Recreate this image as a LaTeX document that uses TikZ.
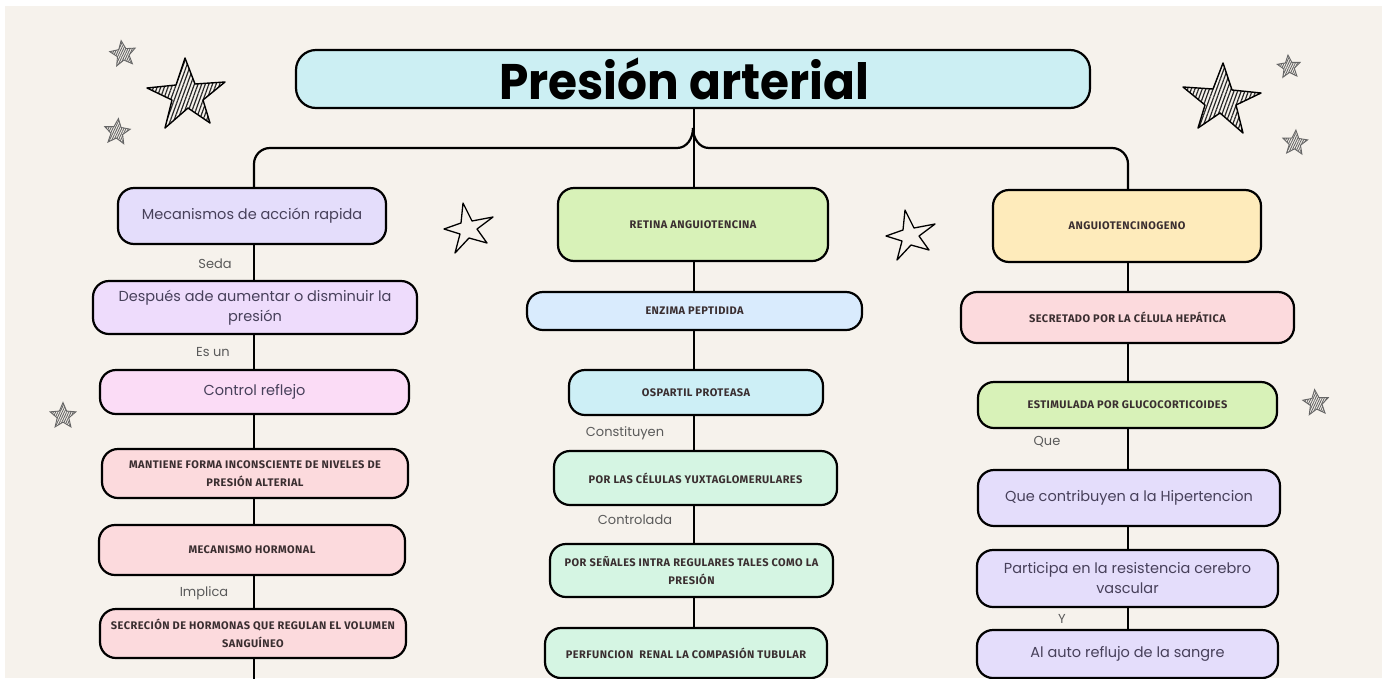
\documentclass[tikz,border=0pt]{standalone}
\usepackage{fontspec}
\setmainfont{Poppins}
\newfontfamily\capsfont[LetterSpace=4]{Fira Sans}
\newfontfamily\titlefont{Poppins}
\usetikzlibrary{shapes.geometric,patterns.meta}
\definecolor{bgc}{HTML}{F6F2EC}
\definecolor{txt}{HTML}{47405A}
\definecolor{capc}{HTML}{3A2E30}
\definecolor{lblc}{HTML}{5A5A5A}
\definecolor{cTitle}{HTML}{CCEFF3}
\definecolor{cLav}{HTML}{E4DDFB}
\definecolor{cPurp}{HTML}{EEDCFC}
\definecolor{cPink}{HTML}{FBDCF6}
\definecolor{cRose}{HTML}{FCDADD}
\definecolor{cGreen}{HTML}{D8F2B8}
\definecolor{cBlue}{HTML}{D9EBFD}
\definecolor{cCyan}{HTML}{CDEFF6}
\definecolor{cMint}{HTML}{D5F5E3}
\definecolor{cYel}{HTML}{FEEBBB}
\tikzset{
  box/.style={draw=black, line width=2.2pt, rounded corners=16pt, inner sep=3pt,
    align=center, text=txt, font=\fontsize{14.5}{20}\selectfont},
  capsbox/.style={box, text=capc, font=\capsfont\bfseries\fontsize{11}{18}\selectfont},
  conn/.style={draw=black, line width=2.2pt},
  lbl/.style={text=lblc, inner sep=0pt, font=\fontsize{13}{15}\selectfont},
  sstar/.style={star, star points=5, star point ratio=2.2, inner sep=0pt,
    draw=black!60, line width=0.9pt,
    pattern={Lines[angle=65,distance=2pt,line width=0.9pt]}, pattern color=black!60},
  bigstar/.pic={
    \draw[line width=1.4pt, line join=round,
      pattern={Lines[angle=70,distance=3.4pt,line width=1.2pt]}, pattern color=black!85]
      (-1,-35) -- (9,-9) -- (39,-11) -- (17,7) -- (24,30) -- (2,15) -- (-21,35)
      -- (-14,7) -- (-39,-5) -- (-10,-8) -- cycle;
  },
  openstar/.pic={
    \draw[line width=1.3pt, line join=round, fill=bgc]
      (-5,-26) -- (4,-8) -- (25,-12) -- (9,0) -- (19,14) -- (1,9) -- (-13,24)
      -- (-8,5) -- (-24,0) -- (-7,-6) -- cycle;
  }
}
\begin{document}
\begin{tikzpicture}[x=1pt,y=-1pt]
\useasboundingbox (0,0) rectangle (1388,678);
\fill[white] (0,0) rectangle (1388,678);
\fill[bgc] (5,6) rectangle (1382,678);

% decorative stars
\pic at (186,93) {bigstar};
\pic[xscale=-1] at (1222,98) {bigstar};
\pic at (468,229) {openstar};
\pic at (910,236) {openstar};
\node[sstar, minimum size=27pt, rotate=8] (s1) at (123,54) {};
\node[sstar, minimum size=27pt, rotate=-6] (s2) at (117,132) {};
\node[sstar, minimum size=24pt, rotate=5] (s3) at (1289,67) {};
\node[sstar, minimum size=26pt, rotate=-4] (s4) at (1295,143) {};
\node[sstar, minimum size=27pt] (s5) at (63,416) {};
\node[sstar, minimum size=27pt, rotate=6] (s6) at (1316,403) {};

% column axes
\coordinate (lx) at (254,0);
\coordinate (mx) at (694,0);
\coordinate (rx) at (1128,0);

% title
\node[box, fill=cTitle, minimum width=794pt, minimum height=58pt, rounded corners=20pt,
  text=black, font=\titlefont\bfseries\fontsize{50}{50}\selectfont] (title) at (693,79)
  {\scalebox{0.94}[1]{Presión arterial}\hspace*{18pt}};

% left column
\node[box, fill=cLav, minimum width=268pt, minimum height=56pt] (mec) at (252,216) {Mecanismos de acción rapida};
\node[box, fill=cPurp, minimum width=324pt, minimum height=53pt] (desp) at (255,307.5) {Después ade aumentar o disminuir la\\presión};
\node[box, fill=cPink, minimum width=309pt, minimum height=44pt] (ctrl) at (254.5,392) {Control reflejo};
\node[capsbox, fill=cRose, minimum width=306pt, minimum height=49pt] (mant) at (255,473.5) {MANTIENE FORMA INCONSCIENTE DE NIVELES DE\\PRESIÓN ALTERIAL};
\node[capsbox, fill=cRose, minimum width=306pt, minimum height=50pt] (mech) at (252,550) {MECANISMO HORMONAL};
\node[capsbox, fill=cRose, minimum width=306pt, minimum height=49pt] (secr) at (253,633.5) {SECRECIÓN DE HORMONAS QUE REGULAN EL VOLUMEN\\SANGUÍNEO};
\coordinate (lend) at (254,680);

% middle column
\node[capsbox, fill=cGreen, minimum width=270pt, minimum height=73pt] (ret) at (693,224.5) {RETINA ANGUIOTENCINA};
\node[capsbox, fill=cBlue, minimum width=335pt, minimum height=38pt] (enz) at (694.5,311) {ENZIMA PEPTIDIDA};
\node[capsbox, fill=cCyan, minimum width=254pt, minimum height=45pt] (osp) at (696,392.5) {OSPARTIL PROTEASA};
\node[capsbox, fill=cMint, minimum width=283pt, minimum height=54pt] (cel) at (695.5,478) {POR LAS CÉLULAS YUXTAGLOMERULARES};
\node[capsbox, fill=cMint, minimum width=283pt, minimum height=53pt] (sen) at (691.5,570.5) {POR SEÑALES INTRA REGULARES TALES COMO LA\\PRESIÓN};
\node[capsbox, fill=cMint, minimum width=282pt, minimum height=50pt] (perf) at (686,653) {PERFUNCION\ \ RENAL LA COMPASIÓN TUBULAR};

% right column
\node[capsbox, fill=cYel, minimum width=268pt, minimum height=72pt] (ang) at (1127,226) {ANGUIOTENCINOGENO};
\node[capsbox, fill=cRose, minimum width=333pt, minimum height=51pt] (sec2) at (1127.5,317.5) {SECRETADO POR LA CÉLULA HEPÁTICA};
\node[capsbox, fill=cGreen, minimum width=299pt, minimum height=46pt] (est) at (1127.5,405) {ESTIMULADA POR GLUCOCORTICOIDES};
\node[box, fill=cLav, minimum width=302pt, minimum height=56pt] (qc) at (1129,498) {Que contribuyen a la Hipertencion};
\node[box, fill=cLav, minimum width=301pt, minimum height=57pt] (part) at (1127.5,578.5) {Participa en la resistencia cerebro\\vascular};
\node[box, fill=cLav, minimum width=301pt, minimum height=48pt] (auto) at (1127.5,654) {Al auto reflujo de la sangre};

% connectors from title
\coordinate (jn) at (693,128);
\draw[conn] (title.south -| mx) -- (ret.north -| mx);
\draw[conn] (jn) to[out=-90,in=0] (677,148) -- (270,148) to[out=180,in=90] (254,164) -- (mec.north -| lx);
\draw[conn] (jn) to[out=-90,in=180] (709,148) -- (1112,148) to[out=0,in=90] (1128,164) -- (ang.north -| rx);

% left chain
\draw[conn] (mec.south -| lx) -- (desp.north -| lx);
\draw[conn] (desp.south -| lx) -- (ctrl.north -| lx);
\draw[conn] (ctrl.south -| lx) -- (mant.north -| lx);
\draw[conn] (mant.south -| lx) -- (mech.north -| lx);
\draw[conn] (mech.south -| lx) -- (secr.north -| lx);
\draw[conn] (secr.south -| lx) -- (lend);

% middle chain
\draw[conn] (ret.south -| mx) -- (enz.north -| mx);
\draw[conn] (enz.south -| mx) -- (osp.north -| mx);
\draw[conn] (osp.south -| mx) -- (cel.north -| mx);
\draw[conn] (cel.south -| mx) -- (sen.north -| mx);
\draw[conn] (sen.south -| mx) -- (perf.north -| mx);

% right chain
\draw[conn] (ang.south -| rx) -- (sec2.north -| rx);
\draw[conn] (sec2.south -| rx) -- (est.north -| rx);
\draw[conn] (est.south -| rx) -- (qc.north -| rx);
\draw[conn] (qc.south -| rx) -- (part.north -| rx);
\draw[conn] (part.south -| rx) -- (auto.north -| rx);

% connector labels
\node[lbl] (l1) at (215,264) {Seda};
\node[lbl] (l2) at (213,352) {Es un};
\node[lbl] (l3) at (204,593) {Implica};
\node[lbl] (l4) at (625,433) {Constituyen};
\node[lbl] (l5) at (635,520) {Controlada};
\node[lbl] (l6) at (1047,442) {Que};
\node[lbl] (l7) at (1062,619) {Y};
\end{tikzpicture}
\end{document}
